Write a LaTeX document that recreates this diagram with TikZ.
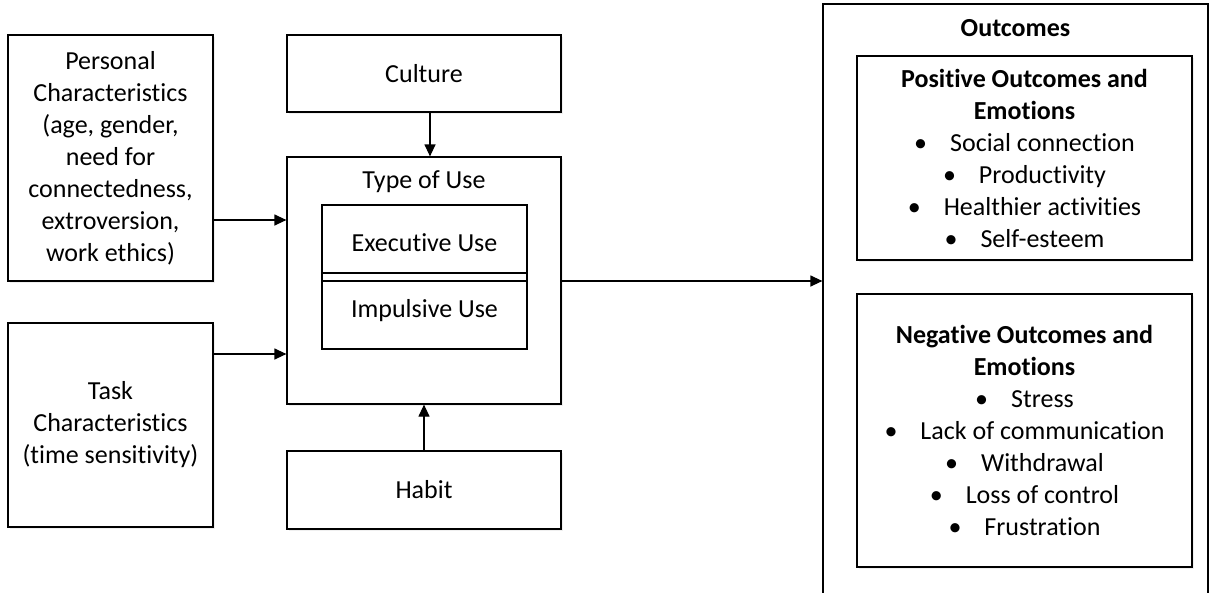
\documentclass[tikz,border=0pt]{standalone}
\usepackage{fontspec}
\setmainfont[Ligatures=NoCommon]{Carlito}
\usetikzlibrary{arrows.meta,shadows}
\begin{document}
\begin{tikzpicture}[x=1pt,y=-1pt,
  txt/.style={font=\fontsize{26}{32}\selectfont,align=center,inner sep=0pt},
  box/.style={txt,draw=black,line width=1.2pt,fill=white,rectangle,
    drop shadow={shadow xshift=2pt,shadow yshift=-2pt,opacity=0.12}},
  inbox/.style={txt,draw=black,line width=1.2pt,rectangle},
  arr/.style={line width=1.2pt,-{Triangle[length=12pt,width=11pt]}}]
\useasboundingbox (0,0) rectangle (1209,592);
\fill[white] (0,0) rectangle (1209,592);
% left column
\node[box,minimum width=205pt,minimum height=246pt] (pers) at (110.5,158)
  {Personal\\Characteristics\\(age, gender,\\need for\\connectedness,\\extroversion,\\work ethics)};
\node[box,minimum width=205pt,minimum height=204pt] (task) at (110.5,425)
  {Task\\Characteristics\\(time sensitivity)};
% middle column
\node[box,minimum width=274pt,minimum height=77pt] (cult) at (424,73.5) {Culture};
\node[box,minimum width=274pt,minimum height=247pt] (type) at (424,280.5) {};
\node[txt] (typet) at (424,182) {Type of Use};
\node[inbox,minimum width=205pt,minimum height=76pt] (exec) at (424.5,243) {Executive Use};
\node[inbox,minimum width=205pt,minimum height=76pt] (imp) at (424.5,311) {Impulsive Use};
\node[box,minimum width=274pt,minimum height=78pt] (habit) at (424,490) {Habit};
% outcomes
\node[box,minimum width=385pt,minimum height=596pt] (out) at (1015.5,302) {};
\node[txt,font=\fontsize{26}{32}\selectfont\bfseries] (outt) at (1015.5,28) {Outcomes};
\node[box,minimum width=335pt,minimum height=204pt] (pos) at (1024.5,158)
  {\textbf{Positive Outcomes and}\\\textbf{Emotions}\\
   •\hspace{23pt}Social connection\\
   •\hspace{23pt}Productivity\\
   •\hspace{23pt}Healthier activities\\
   •\hspace{23pt}Self-esteem};
\node[box,minimum width=335pt,minimum height=273pt] (neg) at (1024.5,430.5)
  {\textbf{Negative Outcomes and}\\\textbf{Emotions}\\
   •\hspace{23pt}Stress\\
   •\hspace{23pt}Lack of communication\\
   •\hspace{23pt}Withdrawal\\
   •\hspace{23pt}Loss of control\\
   •\hspace{23pt}Frustration};
% connectors
\draw[arr] (pers.east |- 0,220) -- (type.west |- 0,220);
\draw[arr] (task.east |- 0,354) -- (type.west |- 0,354);
\draw[arr] (cult.south -| 430,0) -- (type.north -| 430,0);
\draw[arr] (habit.north -| 424,0) -- (type.south -| 424,0);
\draw[arr] (type.east |- 0,281) -- (out.west |- 0,281);
\end{tikzpicture}
\end{document}
